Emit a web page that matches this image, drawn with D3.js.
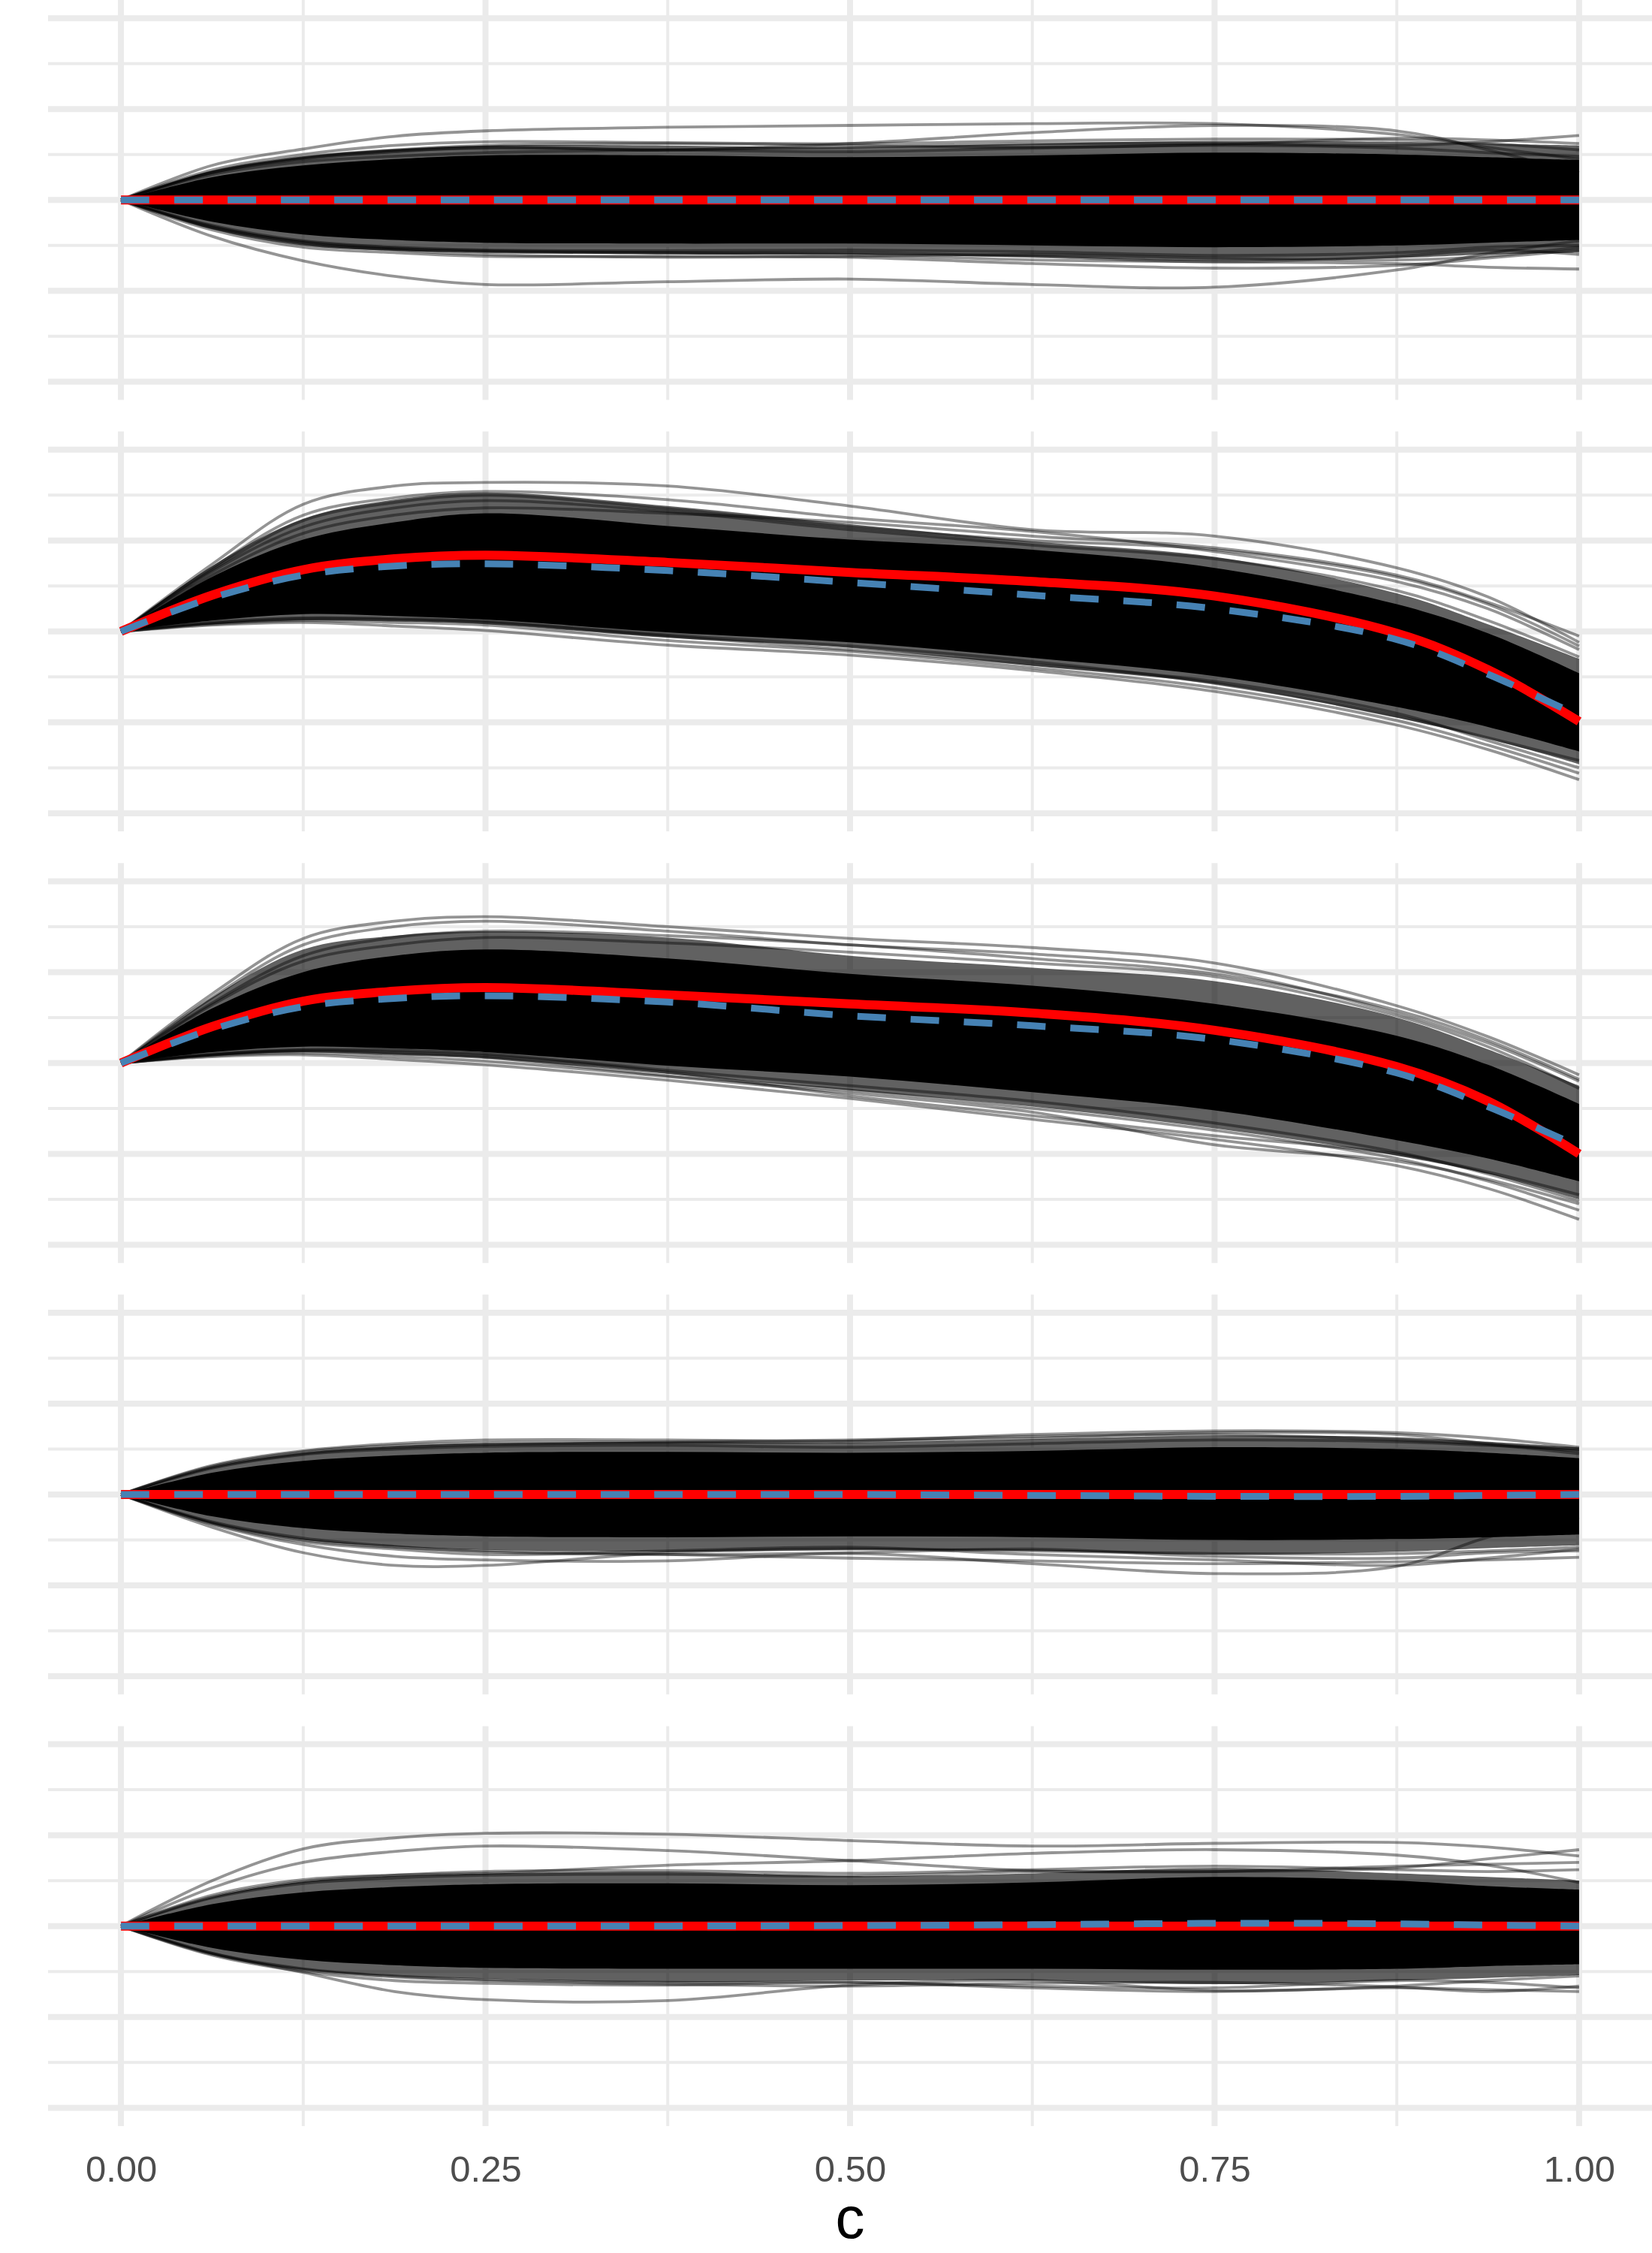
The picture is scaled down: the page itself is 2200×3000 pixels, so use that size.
<!DOCTYPE html>
<html>
<head>
<meta charset="utf-8">
<script src="https://cdn.jsdelivr.net/npm/d3@7"></script>
<style>
  html, body { margin: 0; padding: 0; background: #ffffff; }
  svg { display: block; }
</style>
</head>
<body>
<div id="chart"></div>
<script>
// ---------------- data ----------------
const xKnots = [0, 0.0625, 0.125, 0.1875, 0.25, 0.375, 0.5, 0.625, 0.75, 0.875, 0.9375, 1];
const xTickValues = [0, 0.25, 0.5, 0.75, 1];
const xTickLabels = ["0.00", "0.25", "0.50", "0.75", "1.00"];
const xMinorTicks = [0.125, 0.375, 0.625, 0.875];
const yMajorTicks = [-2, -1, 0, 1, 2];
const yMinorTicks = [-1.5, -0.5, 0.5, 1.5];
const xTitle = "c";

// panel 1
const p1Mean   = [0, 0, 0, 0, 0, 0, 0, 0, 0, 0, 0, 0];
const p1Truth  = [0, 0, 0, 0, 0, 0, 0, 0, 0, 0, 0, 0];
const p1CoreHi = [0, 0.25, 0.38, 0.45, 0.49, 0.49, 0.47, 0.49, 0.52, 0.50, 0.47, 0.44];
const p1CoreLo = [0, -0.24, -0.38, -0.44, -0.47, -0.48, -0.48, -0.50, -0.52, -0.50, -0.47, -0.44];
const p1FringeHi = [0, 0.32, 0.48, 0.56, 0.60, 0.60, 0.58, 0.62, 0.65, 0.64, 0.62, 0.60];
const p1FringeLo = [0, -0.32, -0.50, -0.56, -0.58, -0.60, -0.60, -0.63, -0.67, -0.64, -0.60, -0.58];
const p1Draws = [
  [0, 0.38, 0.56, 0.70, 0.76, 0.80, 0.82, 0.84, 0.84, 0.72, 0.58, 0.45],
  [0, 0.30, 0.45, 0.53, 0.58, 0.55, 0.62, 0.74, 0.82, 0.76, 0.55, 0.30],
  [0, 0.28, 0.42, 0.48, 0.52, 0.55, 0.58, 0.62, 0.62, 0.60, 0.64, 0.71],
  [0, 0.33, 0.50, 0.60, 0.64, 0.63, 0.62, 0.65, 0.67, 0.66, 0.62, 0.55],
  [0, 0.31, 0.47, 0.55, 0.60, 0.62, 0.60, 0.58, 0.61, 0.68, 0.66, 0.62],
  [0, 0.30, 0.46, 0.54, 0.57, 0.55, 0.53, 0.57, 0.60, 0.57, 0.52, 0.48],
  [0, -0.40, -0.67, -0.84, -0.93, -0.90, -0.87, -0.93, -0.96, -0.77, -0.59, -0.45],
  [0, -0.30, -0.46, -0.53, -0.56, -0.58, -0.60, -0.66, -0.68, -0.70, -0.74, -0.76],
  [0, -0.33, -0.52, -0.58, -0.62, -0.62, -0.63, -0.70, -0.75, -0.72, -0.64, -0.55],
  [0, -0.31, -0.49, -0.54, -0.57, -0.58, -0.58, -0.62, -0.68, -0.62, -0.55, -0.60],
  [0, -0.29, -0.47, -0.55, -0.60, -0.63, -0.62, -0.60, -0.64, -0.66, -0.62, -0.52],
  [0, -0.28, -0.45, -0.52, -0.55, -0.56, -0.55, -0.57, -0.61, -0.58, -0.52, -0.50]
];

// panel 2
const p2Mean   = [0, 0.40, 0.68, 0.80, 0.84, 0.76, 0.65, 0.55, 0.39, -0.02, -0.42, -0.99];
const p2Truth  = [0, 0.37, 0.62, 0.72, 0.745, 0.67, 0.54, 0.40, 0.25, -0.09, -0.47, -0.93];
const p2CoreHi = [0, 0.60, 1.01, 1.20, 1.30, 1.16, 1.01, 0.90, 0.70, 0.30, -0.02, -0.46];
const p2CoreLo = [0, 0.12, 0.19, 0.17, 0.13, -0.01, -0.12, -0.29, -0.49, -0.83, -1.05, -1.32];
const p2FringeHi = [0, 0.72, 1.24, 1.45, 1.53, 1.38, 1.18, 0.99, 0.82, 0.42, 0.08, -0.30];
const p2FringeLo = [0, 0.08, 0.12, 0.11, 0.08, -0.07, -0.18, -0.38, -0.58, -0.95, -1.18, -1.46];
const p2Draws = [
  [0, 0.74, 1.40, 1.60, 1.64, 1.60, 1.38, 1.12, 1.05, 0.70, 0.38, -0.12],
  [0, 0.70, 1.28, 1.47, 1.54, 1.45, 1.25, 1.10, 0.88, 0.55, 0.25, -0.20],
  [0, 0.68, 1.22, 1.42, 1.50, 1.35, 1.15, 1.00, 0.90, 0.60, 0.30, -0.16],
  [0, 0.62, 1.08, 1.28, 1.36, 1.30, 1.20, 1.05, 0.92, 0.62, 0.32, -0.05],
  [0, 0.66, 1.15, 1.36, 1.44, 1.32, 1.12, 0.95, 0.80, 0.45, 0.12, -0.28],
  [0, 0.07, 0.10, 0.06, 0.01, -0.15, -0.26, -0.43, -0.66, -1.03, -1.30, -1.63],
  [0, 0.08, 0.12, 0.10, 0.07, -0.10, -0.22, -0.40, -0.62, -0.98, -1.25, -1.56],
  [0, 0.09, 0.14, 0.13, 0.10, -0.05, -0.20, -0.36, -0.55, -0.90, -1.20, -1.50],
  [0, 0.10, 0.15, 0.14, 0.11, -0.04, -0.16, -0.33, -0.57, -0.93, -1.17, -1.42]
];

// panel 3
const p3Mean   = [0, 0.40, 0.68, 0.79, 0.83, 0.75, 0.65, 0.55, 0.36, -0.04, -0.42, -1.00];
const p3Truth  = [0, 0.37, 0.62, 0.71, 0.74, 0.67, 0.52, 0.41, 0.26, -0.11, -0.48, -0.92];
const p3CoreHi = [0, 0.60, 1.00, 1.18, 1.25, 1.15, 0.98, 0.85, 0.65, 0.30, -0.02, -0.45];
const p3CoreLo = [0, 0.12, 0.18, 0.16, 0.12, -0.03, -0.15, -0.32, -0.52, -0.85, -1.05, -1.30];
const p3FringeHi = [0, 0.72, 1.25, 1.40, 1.45, 1.38, 1.18, 1.05, 0.90, 0.50, 0.15, -0.25];
const p3FringeLo = [0, 0.08, 0.12, 0.09, 0.05, -0.12, -0.30, -0.48, -0.72, -1.02, -1.22, -1.50];
const p3Draws = [
  [0, 0.76, 1.37, 1.56, 1.61, 1.50, 1.37, 1.27, 1.10, 0.63, 0.29, -0.13],
  [0, 0.72, 1.30, 1.50, 1.56, 1.45, 1.30, 1.20, 1.02, 0.55, 0.22, -0.20],
  [0, 0.66, 1.18, 1.38, 1.45, 1.40, 1.30, 1.15, 0.98, 0.58, 0.25, -0.18],
  [0, 0.64, 1.12, 1.30, 1.38, 1.32, 1.22, 1.10, 0.95, 0.52, 0.18, -0.28],
  [0, 0.07, 0.09, 0.04, -0.02, -0.19, -0.39, -0.62, -0.84, -1.13, -1.38, -1.72],
  [0, 0.08, 0.11, 0.07, 0.02, -0.15, -0.33, -0.54, -0.90, -1.08, -1.28, -1.55],
  [0, 0.09, 0.13, 0.10, 0.06, -0.14, -0.30, -0.50, -0.74, -1.05, -1.30, -1.62],
  [0, 0.09, 0.14, 0.12, 0.08, -0.10, -0.36, -0.58, -0.80, -1.00, -1.20, -1.45],
  [0, 0.10, 0.15, 0.14, 0.10, -0.08, -0.25, -0.42, -0.66, -0.98, -1.22, -1.52]
];

// panel 4
const p4Mean   = [0, 0, 0, 0, 0, 0, 0, 0, 0, 0, 0, 0];
const p4Truth  = [0, 0, 0, 0, 0, 0, 0, -0.01, -0.02, -0.02, -0.01, 0];
const p4CoreHi = [0, 0.24, 0.37, 0.43, 0.46, 0.47, 0.46, 0.48, 0.52, 0.50, 0.46, 0.40];
const p4CoreLo = [0, -0.24, -0.37, -0.43, -0.46, -0.47, -0.46, -0.47, -0.50, -0.49, -0.47, -0.44];
const p4FringeHi = [0, 0.30, 0.46, 0.53, 0.56, 0.58, 0.57, 0.61, 0.65, 0.63, 0.58, 0.52];
const p4FringeLo = [0, -0.32, -0.50, -0.57, -0.61, -0.63, -0.61, -0.62, -0.66, -0.63, -0.59, -0.56];
const p4Draws = [
  [0, 0.32, 0.48, 0.56, 0.60, 0.60, 0.59, 0.66, 0.70, 0.68, 0.62, 0.52],
  [0, 0.31, 0.47, 0.54, 0.57, 0.58, 0.60, 0.64, 0.66, 0.60, 0.55, 0.45],
  [0, 0.30, 0.45, 0.52, 0.55, 0.57, 0.58, 0.62, 0.68, 0.66, 0.56, 0.48],
  [0, 0.29, 0.44, 0.50, 0.53, 0.54, 0.52, 0.56, 0.60, 0.58, 0.54, 0.50],
  [0, -0.36, -0.64, -0.78, -0.78, -0.64, -0.60, -0.62, -0.65, -0.65, -0.62, -0.58],
  [0, -0.33, -0.55, -0.68, -0.72, -0.73, -0.65, -0.76, -0.87, -0.79, -0.47, -0.25],
  [0, -0.31, -0.50, -0.58, -0.62, -0.66, -0.70, -0.73, -0.76, -0.74, -0.72, -0.69],
  [0, -0.32, -0.52, -0.60, -0.66, -0.62, -0.58, -0.66, -0.72, -0.78, -0.70, -0.60],
  [0, -0.30, -0.48, -0.57, -0.63, -0.66, -0.64, -0.60, -0.68, -0.70, -0.64, -0.62]
];

// panel 5
const p5Mean   = [0, 0, 0, 0, 0, 0, 0, 0, 0, 0, 0, 0];
const p5Truth  = [0, 0, 0, 0, 0, 0, 0.005, 0.015, 0.03, 0.025, 0.01, 0];
const p5CoreHi = [0, 0.24, 0.37, 0.43, 0.46, 0.47, 0.45, 0.48, 0.54, 0.50, 0.44, 0.40];
const p5CoreLo = [0, -0.24, -0.37, -0.43, -0.46, -0.47, -0.47, -0.47, -0.48, -0.47, -0.44, -0.42];
const p5FringeHi = [0, 0.32, 0.49, 0.55, 0.58, 0.60, 0.55, 0.58, 0.64, 0.58, 0.54, 0.50];
const p5FringeLo = [0, -0.31, -0.48, -0.55, -0.58, -0.62, -0.60, -0.60, -0.64, -0.60, -0.57, -0.54];
const p5Draws = [
  [0, 0.50, 0.85, 0.97, 1.02, 1.01, 0.94, 0.88, 0.91, 0.92, 0.87, 0.77],
  [0, 0.42, 0.70, 0.82, 0.88, 0.83, 0.72, 0.61, 0.60, 0.66, 0.68, 0.70],
  [0, 0.34, 0.51, 0.56, 0.58, 0.67, 0.72, 0.80, 0.84, 0.78, 0.67, 0.48],
  [0, 0.31, 0.47, 0.53, 0.56, 0.57, 0.55, 0.60, 0.60, 0.64, 0.74, 0.84],
  [0, 0.32, 0.49, 0.56, 0.60, 0.61, 0.58, 0.62, 0.66, 0.62, 0.60, 0.62],
  [0, -0.30, -0.51, -0.72, -0.81, -0.82, -0.65, -0.60, -0.71, -0.68, -0.70, -0.72],
  [0, -0.32, -0.50, -0.60, -0.63, -0.65, -0.62, -0.68, -0.72, -0.66, -0.60, -0.55],
  [0, -0.31, -0.48, -0.56, -0.60, -0.64, -0.66, -0.63, -0.62, -0.67, -0.72, -0.66],
  [0, -0.30, -0.47, -0.55, -0.59, -0.62, -0.62, -0.66, -0.68, -0.60, -0.62, -0.68]
];

// ---------------- layout ----------------
const W = 2200, H = 3000;
const panelH = 532.5, panelStep = 574.6;
const plotLeft = 64, plotRight = 2200;

const panels = [
  {mean: p1Mean, truth: p1Truth, coreHi: p1CoreHi, coreLo: p1CoreLo, fringeHi: p1FringeHi, fringeLo: p1FringeLo, draws: p1Draws},
  {mean: p2Mean, truth: p2Truth, coreHi: p2CoreHi, coreLo: p2CoreLo, fringeHi: p2FringeHi, fringeLo: p2FringeLo, draws: p2Draws},
  {mean: p3Mean, truth: p3Truth, coreHi: p3CoreHi, coreLo: p3CoreLo, fringeHi: p3FringeHi, fringeLo: p3FringeLo, draws: p3Draws},
  {mean: p4Mean, truth: p4Truth, coreHi: p4CoreHi, coreLo: p4CoreLo, fringeHi: p4FringeHi, fringeLo: p4FringeLo, draws: p4Draws},
  {mean: p5Mean, truth: p5Truth, coreHi: p5CoreHi, coreLo: p5CoreLo, fringeHi: p5FringeHi, fringeLo: p5FringeLo, draws: p5Draws}
];

const svg = d3.select("#chart").append("svg")
  .attr("width", W).attr("height", H)
  .attr("viewBox", `0 0 ${W} ${H}`);
svg.append("rect").attr("width", W).attr("height", H).attr("fill", "#ffffff");

const x = d3.scaleLinear().domain([-0.05, 1.05]).range([plotLeft, plotRight]);
const gridColor = "#EBEBEB";
const curve = d3.curveCatmullRom.alpha(0.5);

panels.forEach((p, i) => {
  const top = i * panelStep;
  const y = d3.scaleLinear().domain([-2.2, 2.2]).range([top + panelH, top]);
  const g = svg.append("g").attr("class", "panel");

  // grid: minor then major
  g.selectAll(".hminor").data(yMinorTicks).join("line")
    .attr("x1", plotLeft).attr("x2", plotRight)
    .attr("y1", d => y(d)).attr("y2", d => y(d))
    .attr("stroke", gridColor).attr("stroke-width", 4);
  g.selectAll(".vminor").data(xMinorTicks).join("line")
    .attr("x1", d => x(d)).attr("x2", d => x(d))
    .attr("y1", top).attr("y2", top + panelH)
    .attr("stroke", gridColor).attr("stroke-width", 4);
  g.selectAll(".hmajor").data(yMajorTicks).join("line")
    .attr("x1", plotLeft).attr("x2", plotRight)
    .attr("y1", d => y(d)).attr("y2", d => y(d))
    .attr("stroke", gridColor).attr("stroke-width", 8);
  g.selectAll(".vmajor").data(xTickValues).join("line")
    .attr("x1", d => x(d)).attr("x2", d => x(d))
    .attr("y1", top).attr("y2", top + panelH)
    .attr("stroke", gridColor).attr("stroke-width", 8);

  const line = d3.line()
    .x((d, j) => x(xKnots[j])).y(d => y(d))
    .curve(curve);
  const area = d3.area()
    .x((d, j) => x(xKnots[j]))
    .y0(d => y(d[0])).y1(d => y(d[1]))
    .curve(curve);

  // fringe of many overlapping draws
  g.append("path")
    .datum(p.fringeLo.map((v, j) => [v, p.fringeHi[j]]))
    .attr("d", area).attr("fill", "#000").attr("fill-opacity", 0.62);
  // dense core
  g.append("path")
    .datum(p.coreLo.map((v, j) => [v, p.coreHi[j]]))
    .attr("d", area).attr("fill", "#000").attr("fill-opacity", 1);

  // individual draws
  g.selectAll(".draw").data(p.draws).join("path")
    .attr("d", line).attr("fill", "none")
    .attr("stroke", "#000").attr("stroke-opacity", 0.42)
    .attr("stroke-width", 3.8);

  // posterior mean (red)
  g.append("path").datum(p.mean).attr("d", line)
    .attr("fill", "none").attr("stroke", "#FF0000").attr("stroke-width", 12);
  // truth (blue dashed)
  g.append("path").datum(p.truth).attr("d", line)
    .attr("fill", "none").attr("stroke", "#4682B4").attr("stroke-width", 9)
    .attr("stroke-dasharray", "38,33");
});

// x axis
const axisY = 4 * panelStep + panelH;
const axisG = svg.append("g").attr("transform", `translate(0,${axisY})`)
  .call(d3.axisBottom(x).tickValues(xTickValues)
    .tickFormat((d, i) => xTickLabels[i]).tickSize(0));
axisG.select(".domain").remove();
axisG.selectAll("text")
  .attr("y", 2905 - axisY).attr("dy", 0)
  .attr("fill", "#4D4D4D")
  .style("font-family", "'Liberation Sans', Arial, sans-serif")
  .style("font-size", "49px");

svg.append("text")
  .attr("x", x(0.5)).attr("y", 2980)
  .attr("text-anchor", "middle")
  .attr("fill", "#000")
  .style("font-family", "'Liberation Sans', Arial, sans-serif")
  .style("font-size", "78px")
  .text(xTitle);
</script>
</body>
</html>
